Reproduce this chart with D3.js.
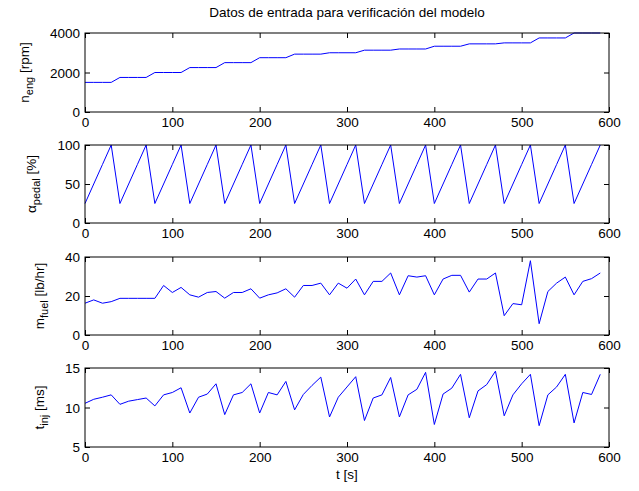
<!DOCTYPE html>
<html>
<head>
<meta charset="utf-8">
<script src="https://cdn.jsdelivr.net/npm/d3@7"></script>
<style>
body { margin: 0; background: #fff; }
text { font-family: "Liberation Sans", Arial, sans-serif; font-size: 13.5px; fill: #000; }
</style>
</head>
<body>
<script>
// sample times [s]
var time = [0, 10, 20, 30, 40, 50, 60, 70, 80, 90,
  100, 110, 120, 130, 140, 150, 160, 170, 180, 190,
  200, 210, 220, 230, 240, 250, 260, 270, 280, 290,
  300, 310, 320, 330, 340, 350, 360, 370, 380, 390,
  400, 410, 420, 430, 440, 450, 460, 470, 480, 490,
  500, 510, 520, 530, 540, 550, 560, 570, 580, 590];

// engine speed [rpm]
var nEng = [1500, 1500, 1500, 1500, 1750, 1750, 1750, 1750, 2000, 2000,
  2000, 2000, 2250, 2250, 2250, 2250, 2500, 2500, 2500, 2500,
  2750, 2750, 2750, 2750, 2930, 2930, 2930, 2930, 3000, 3000,
  3000, 3000, 3130, 3130, 3130, 3130, 3190, 3190, 3190, 3190,
  3330, 3330, 3330, 3330, 3450, 3450, 3450, 3450, 3500, 3500,
  3500, 3500, 3750, 3750, 3750, 3750, 4000, 4000, 4000, 4000];

// pedal position [%]
var aPedal = [25, 50, 75, 100, 25, 50, 75, 100, 25, 50,
  75, 100, 25, 50, 75, 100, 25, 50, 75, 100,
  25, 50, 75, 100, 25, 50, 75, 100, 25, 50,
  75, 100, 25, 50, 75, 100, 25, 50, 75, 100,
  25, 50, 75, 100, 25, 50, 75, 100, 25, 50,
  75, 100, 25, 50, 75, 100, 25, 50, 75, 100];

// fuel flow [lb/hr]
var mFuel = [16.3, 18.0, 16.3, 17.1, 18.8, 18.8, 18.8, 18.8, 18.8, 25.4,
  21.8, 24.4, 20.6, 19.4, 21.8, 22.3, 18.9, 21.8, 21.8, 23.7,
  18.9, 20.6, 21.6, 23.7, 19.4, 25.4, 25.4, 26.6, 20.6, 26.6,
  24.0, 28.7, 20.6, 27.5, 27.5, 31.8, 20.6, 30.4, 29.7, 30.4,
  20.6, 28.7, 30.6, 30.6, 22.0, 28.7, 28.7, 31.8, 9.9, 16.1,
  15.5, 38.1, 5.8, 22.3, 26.6, 29.7, 20.6, 27.5, 28.9, 31.8];

// injection time [ms]
var tInj = [10.53, 11.04, 11.3, 11.6, 10.4, 10.8, 11.0, 11.2, 10.2, 11.6,
  11.9, 12.5, 9.3, 11.3, 11.7, 13.0, 9.1, 11.6, 11.9, 13.0,
  9.3, 11.9, 11.6, 13.3, 9.7, 11.65, 12.8, 13.85, 8.8, 11.3,
  12.6, 13.9, 8.35, 11.2, 11.6, 13.8, 8.8, 11.6, 12.3, 14.45,
  7.85, 11.7, 12.45, 14.2, 8.7, 12.1, 12.9, 14.6, 8.95, 11.6,
  13.0, 14.2, 7.7, 11.6, 12.6, 14.2, 8.05, 11.9, 11.65, 14.2];

// tick labels
var xTicks = [0, 100, 200, 300, 400, 500, 600];
var nEngTicks = [0, 2000, 4000];
var aPedalTicks = [0, 50, 100];
var mFuelTicks = [0, 20, 40];
var tInjTicks = [5, 10, 15];

var title = "Datos de entrada para verificación del modelo";
var xTitle = "t [s]";

var width = 639,
    height = 491,
    left = 85,
    right = 609;

var svg = d3.select("body").append("svg")
  .attr("width", width)
  .attr("height", height);

svg.append("rect")
  .attr("width", width)
  .attr("height", height)
  .attr("fill", "white");

var x = d3.scaleLinear().domain([0, 600]).range([left, right]);
var fmt = d3.format("d");

var panels = [
  {values: nEng, domain: [0, 4000], ticks: nEngTicks, sym: "n", sub: "eng", unit: " [rpm]", top: 33, bottom: 112},
  {values: aPedal, domain: [0, 100], ticks: aPedalTicks, sym: "\u03b1", sub: "pedal", unit: " [%]", top: 145, bottom: 223},
  {values: mFuel, domain: [0, 40], ticks: mFuelTicks, sym: "m", sub: "fuel", unit: " [lb/hr]", top: 257, bottom: 335},
  {values: tInj, domain: [5, 15], ticks: tInjTicks, sym: "t", sub: "inj", unit: " [ms]", top: 368, bottom: 447}
];

panels.forEach(function(p, k) {
  var y = d3.scaleLinear().domain(p.domain).range([p.bottom, p.top]);
  var g = svg.append("g");

  // data line
  g.append("path")
    .datum(p.values)
    .attr("fill", "none")
    .attr("stroke", "#0000ff")
    .attr("stroke-width", 1)
    .attr("d", d3.line()
      .x(function(d, i) { return x(time[i]); })
      .y(function(d) { return y(d); }));

  // ticks, pointing inward on all four sides
  var bottomAxis = g.append("g")
    .attr("transform", "translate(0," + p.bottom + ")")
    .call(d3.axisBottom(x).tickValues(xTicks).tickFormat(fmt).tickSizeInner(-5).tickSizeOuter(0).tickPadding(4));
  g.append("g")
    .attr("transform", "translate(0," + p.top + ")")
    .call(d3.axisTop(x).tickValues(xTicks).tickSizeInner(-5).tickSizeOuter(0).tickFormat(""));
  var leftAxis = g.append("g")
    .attr("transform", "translate(" + left + ",0)")
    .call(d3.axisLeft(y).tickValues(p.ticks).tickFormat(fmt).tickSizeInner(-5).tickSizeOuter(0).tickPadding(5));
  g.append("g")
    .attr("transform", "translate(" + right + ",0)")
    .call(d3.axisRight(y).tickValues(p.ticks).tickSizeInner(-5).tickSizeOuter(0).tickFormat(""));

  g.selectAll(".domain").remove();
  g.selectAll(".tick line").attr("stroke", "#000");
  g.selectAll(".tick text")
    .attr("font-family", null)
    .attr("font-size", null)
    .attr("fill", "#000");
  bottomAxis.selectAll(".tick text").attr("dy", "0.8em");
  leftAxis.selectAll(".tick text").attr("dy", "0.36em");

  // box
  g.append("rect")
    .attr("x", left)
    .attr("y", p.top)
    .attr("width", right - left)
    .attr("height", p.bottom - p.top)
    .attr("fill", "none")
    .attr("stroke", "#000")
    .attr("stroke-width", 1);

  // y label, placed left of the widest tick label
  var widest = 0;
  leftAxis.selectAll(".tick text").each(function() {
    widest = Math.max(widest, this.getComputedTextLength());
  });
  var lx = left - 5 - widest - 21,
      ly = (p.top + p.bottom) / 2;
  var label = g.append("text")
    .attr("transform", "translate(" + lx + "," + ly + ") rotate(-90)")
    .attr("text-anchor", "middle");
  label.append("tspan").text(p.sym);
  label.append("tspan").attr("dy", 4).style("font-size", "11px").text(p.sub);
  label.append("tspan").attr("dy", -4).text(p.unit);
});

svg.append("text")
  .attr("x", (left + right) / 2)
  .attr("y", 17)
  .attr("text-anchor", "middle")
  .text(title);

svg.append("text")
  .attr("x", (left + right) / 2)
  .attr("y", 479)
  .attr("text-anchor", "middle")
  .text(xTitle);
</script>
</body>
</html>
